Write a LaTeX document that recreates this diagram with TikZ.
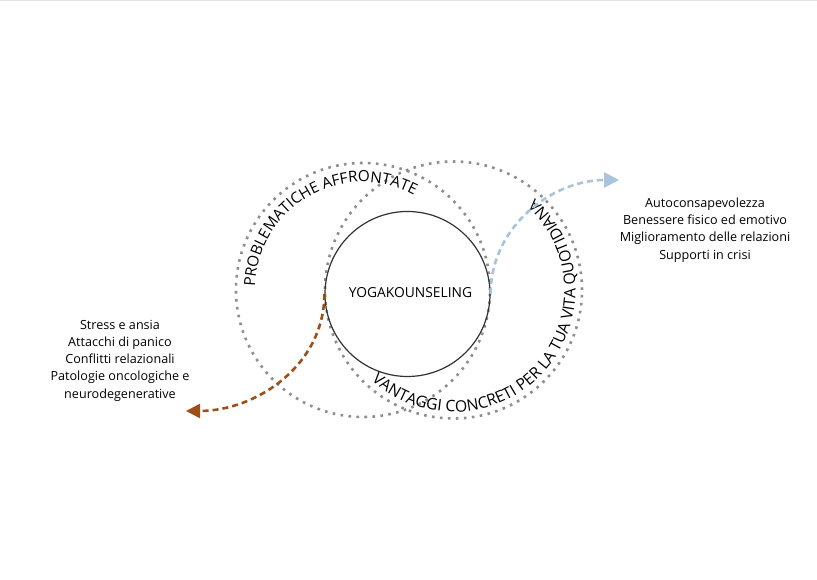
\documentclass[tikz,border=0pt]{standalone}
\usepackage{fontspec}
\setmainfont{Open Sans}
\usetikzlibrary{decorations.text,arrows.meta}
\definecolor{dotgray}{HTML}{8E8E8E}
\definecolor{ringdark}{HTML}{333333}
\definecolor{brownarrow}{HTML}{9E4F17}
\definecolor{bluearrow}{HTML}{A8C4DD}
\definecolor{topline}{HTML}{E4E4EA}
\tikzset{
  dotring/.style={draw=dotgray, line width=2.6pt, dash pattern=on 2.6pt off 5.4pt},
  coreball/.style={circle, draw=ringdark, line width=1.2pt, minimum size=165pt, inner sep=0pt, font=\fontsize{13.8}{16}\selectfont},
  listtext/.style={align=center, font=\fontsize{12.6}{17.3}\selectfont, inner sep=0pt},
  brownflow/.style={draw=brownarrow, line width=2.6pt, dash pattern=on 6pt off 4pt, -{Triangle[length=14pt,width=14pt]}},
  blueflow/.style={draw=bluearrow, line width=2.6pt, dash pattern=on 6pt off 4pt, -{Triangle[length=15pt,width=15pt]}},
}
\begin{document}
\begin{tikzpicture}[x=1pt,y=1pt]
\useasboundingbox (0,0) rectangle (817,580);
\fill[white] (0,0) rectangle (817,580);
\draw[topline, line width=1.5pt] (0,579.5) -- (817,579.5);
% dotted rings
\coordinate (lc) at (363,290);
\coordinate (rc) at (453.5,290);
\draw[dotring] (lc) circle[radius=127];
\draw[dotring] (rc) circle[radius=128.5];
% central circle
\node[coreball] (core) at (407.5,286) {\hspace*{6pt}\raisebox{3pt}{YOGAKOUNSELING}};
% arc labels
\path[decorate, decoration={text along path, text align=center,
  text={|\fontsize{15.3}{15}\selectfont|PROBLEMATICHE AFFRONTATE}}]
  (lc) ++(190:108) arc[start angle=190, end angle=50, radius=108];
\path[decorate, decoration={text along path, text align=center,
  text={|\fontsize{15.8}{15}\selectfont|VANTAGGI CONCRETI PER LA TUA VITA QUOTIDIANA}}]
  (rc) ++(-150:122) arc[start angle=-150, end angle=66, radius=122];
% arrows
\coordinate (leftend) at (186,169);
\coordinate (rightend) at (619,400);
\draw[brownflow] (core.west) to[out=-90,in=0] (leftend);
\draw[blueflow] (core.east) to[out=90,in=180] (rightend);
% lists
\node[listtext] (probs) at (120,219.5) {Stress e ansia\\Attacchi di panico\\Conflitti relazionali\\Patologie oncologiche e\\neurodegenerative};
\node[listtext] (gains) at (705,350) {Autoconsapevolezza\\Benessere fisico ed emotivo\\Miglioramento delle relazioni\\Supporti in crisi};
\end{tikzpicture}
\end{document}
